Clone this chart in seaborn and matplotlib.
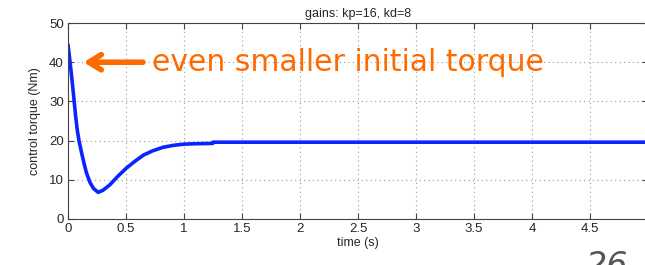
import numpy as np
import matplotlib
matplotlib.use("Agg")
import matplotlib.pyplot as plt
import seaborn as sns
import pandas as pd

# values
time_s = [0.0, 0.02, 0.04, 0.052, 0.065, 0.08, 0.095, 0.118, 0.14, 0.16, 0.19, 0.22, 0.26,
          0.30, 0.36, 0.43, 0.5, 0.58, 0.65, 0.73, 0.82, 0.91, 1.0, 1.1, 1.249,
          1.25, 2.0, 3.0, 4.0, 5.0]
torque = [44.5, 39.5, 34.0, 30.4, 26.5, 22.7, 20.0, 16.8, 14.0, 11.7, 9.3, 7.8, 6.8,
          7.3, 8.7, 10.9, 12.9, 14.8, 16.3, 17.4, 18.3, 18.8, 19.1, 19.2, 19.3,
          19.6, 19.6, 19.6, 19.6, 19.6]

title = "gains: kp=16, kd=8"
note = "even smaller initial torque"

sns.set_style("ticks")
plt.rcParams["font.family"] = ["Liberation Sans", "DejaVu Sans"]

df = pd.DataFrame({"t": time_s, "u": torque})

fig = plt.figure(figsize=(6.45, 2.65), dpi=100)
ax = fig.add_axes([0.1054, 0.1736, 0.8993, 0.7394])
sns.lineplot(data=df, x="t", y="u", color="#0a24ff", linewidth=2.6, ax=ax)

ax.set_xlim(0, 5)
ax.set_ylim(0, 50)
ax.set_xticks(np.arange(0, 5.01, 0.5))
ax.set_xticklabels(["0", "0.5", "1", "1.5", "2", "2.5", "3", "3.5", "4", "4.5", "5"])
ax.set_yticks(np.arange(0, 51, 10))
ax.grid(True, linestyle=(0, (1, 3)), color="#999999", linewidth=0.8)
ax.tick_params(direction="in", top=True, right=True, labelsize=9.5, length=4,
               color="#444444", pad=3)
for s in ax.spines.values():
    s.set_color("#444444")
    s.set_linewidth(0.8)
ax.set_xlabel("time (s)", fontsize=9, labelpad=1)
ax.set_ylabel("control torque (Nm)", fontsize=9, labelpad=6)
ax.set_title(title, fontsize=9, pad=4)

ax.annotate("", xy=(0.11, 40), xytext=(0.67, 40),
            arrowprops=dict(arrowstyle="->,head_length=0.9,head_width=0.55",
                            color="#ff6a00", lw=4))
ax.text(0.72, 40, note, color="#ff6a00", fontsize=21.5, family="DejaVu Sans",
        va="center", ha="left")

fig.text(0.908, -0.04, "26", color="#555555", fontsize=24, style="italic",
         family="DejaVu Sans", va="baseline", ha="left")

fig.savefig("out.png", dpi=100)
